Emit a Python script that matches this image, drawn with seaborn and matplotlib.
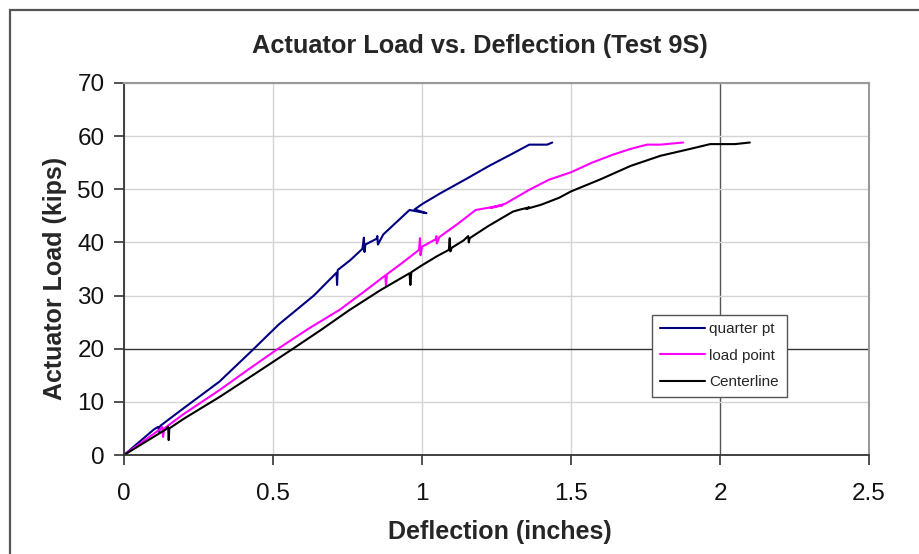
import pandas as pd
import seaborn as sns
import matplotlib.pyplot as plt
from matplotlib.patches import Rectangle

# readings (deflection in inches, load in kips)
quarter_x = [0, 0.05, 0.10, 0.115, 0.118, 0.122, 0.20, 0.32, 0.423, 0.52, 0.637, 0.69,
             0.713, 0.715, 0.717, 0.76, 0.80, 0.805, 0.807, 0.81, 0.848, 0.85, 0.852,
             0.87, 0.958, 1.015, 0.975, 1.00, 1.06, 1.15, 1.225, 1.30, 1.36, 1.42, 1.437]
quarter_y = [0, 2.4, 4.8, 5.3, 4.3, 5.5, 8.8, 13.8, 19.3, 24.6, 30.0, 33.0,
             34.3, 32.0, 34.8, 36.7, 38.8, 40.9, 38.2, 39.6, 40.7, 41.2, 39.6,
             41.5, 46.1, 45.5, 46.2, 47.2, 49.2, 52.0, 54.4, 56.6, 58.4, 58.4, 58.8]

load_x = [0, 0.06, 0.12, 0.128, 0.131, 0.135, 0.20, 0.32, 0.42, 0.517, 0.62, 0.723,
          0.80, 0.877, 0.879, 0.882, 0.93, 0.99, 0.993, 0.995, 1.00, 1.046, 1.048,
          1.05, 1.058, 1.12, 1.18, 1.21, 1.27, 1.23, 1.28, 1.36, 1.426, 1.50, 1.57,
          1.64, 1.70, 1.755, 1.80, 1.876]
load_y = [0, 2.4, 4.8, 5.3, 3.4, 5.0, 7.7, 12.2, 16.2, 20.0, 23.8, 27.3,
          30.5, 33.8, 31.8, 34.0, 36.0, 38.6, 40.8, 37.6, 39.2, 40.6, 41.2,
          39.8, 41.0, 43.5, 46.1, 46.4, 47.0, 46.5, 47.3, 49.9, 51.8, 53.2, 55.0,
          56.5, 57.6, 58.4, 58.4, 58.8]

center_x = [0, 0.07, 0.14, 0.148, 0.15, 0.152, 0.20, 0.32, 0.44, 0.567, 0.66, 0.757,
            0.86, 0.958, 0.961, 0.964, 1.00, 1.05, 1.09, 1.093, 1.095, 1.10, 1.14,
            1.155, 1.157, 1.16, 1.22, 1.305, 1.33, 1.36, 1.35, 1.40, 1.46, 1.50, 1.60,
            1.70, 1.80, 1.90, 1.967, 2.05, 2.10]
center_y = [0, 2.4, 4.8, 5.3, 2.8, 5.0, 6.8, 10.9, 15.3, 20.0, 23.5, 27.3,
            31.0, 34.2, 32.0, 34.4, 35.7, 37.4, 38.6, 40.8, 38.3, 39.0, 40.4,
            41.2, 40.0, 40.8, 43.0, 45.8, 46.2, 46.6, 46.3, 47.1, 48.4, 49.6, 51.9,
            54.4, 56.3, 57.6, 58.5, 58.5, 58.8]

series_names = ["quarter pt", "load point", "Centerline"]
series_colors = ["#000080", "#ff00ff", "#000000"]

df = pd.concat([
    pd.DataFrame({"x": quarter_x, "y": quarter_y, "series": series_names[0]}),
    pd.DataFrame({"x": load_x, "y": load_y, "series": series_names[1]}),
    pd.DataFrame({"x": center_x, "y": center_y, "series": series_names[2]}),
], ignore_index=True)

sns.set_style("white")
plt.rcParams["font.family"] = ["Liberation Sans", "DejaVu Sans"]

fig = plt.figure(figsize=(9.2, 5.54), dpi=100)
ax = fig.add_axes([0.1348, 0.1787, 0.8098, 0.6715])

sns.lineplot(data=df, x="x", y="y", hue="series", sort=False, estimator=None,
             palette=dict(zip(series_names, series_colors)), linewidth=1.5, ax=ax)

ax.set_xlim(0, 2.5)
ax.set_ylim(0, 70)
ax.set_xticks([0, 0.5, 1, 1.5, 2, 2.5])
ax.set_xticklabels(["0", "0.5", "1", "1.5", "2", "2.5"])
ax.set_yticks(range(0, 71, 10))

ax.grid(True, color="#d4d4d4", linewidth=1.0)
ax.set_axisbelow(True)
# the reference has two darker grid lines
for gl, v in zip(ax.get_ygridlines(), ax.get_yticks()):
    if v == 20:
        gl.set_color("#333333")
for gl, v in zip(ax.get_xgridlines(), ax.get_xticks()):
    if v == 2:
        gl.set_color("#555555")

for side in ["top", "right"]:
    ax.spines[side].set_color("#999999")
    ax.spines[side].set_linewidth(1.5)
for side in ["left", "bottom"]:
    ax.spines[side].set_color("#333333")
    ax.spines[side].set_linewidth(1.3)

ax.tick_params(axis="both", which="major", direction="out", length=7, width=1.2,
               color="#333333", labelsize=17.5, labelcolor="#111111",
               left=True, bottom=True)
ax.tick_params(axis="x", pad=13)
ax.tick_params(axis="y", pad=7)

ax.set_xlabel("")
ax.set_ylabel("")
fig.text(0.5435, 0.040, "Deflection (inches)", ha="center", va="center",
         fontsize=18, fontweight="bold")
fig.text(0.0598, 0.498, "Actuator Load (kips)", ha="center", va="center",
         rotation=90, fontsize=18, fontweight="bold")
fig.text(0.522, 0.917, "Actuator Load vs. Deflection (Test 9S)", ha="center",
         va="center", fontsize=18.3, fontweight="bold")

handles, labels = ax.get_legend_handles_labels()
leg = ax.legend(handles, labels, loc="lower left", bbox_to_anchor=(0.7087, 0.156),
                borderaxespad=0, fontsize=11, frameon=True, fancybox=False,
                framealpha=1, edgecolor="#555555", handlelength=3.0,
                handletextpad=0.25, borderpad=0.5, labelspacing=0.82)
leg.get_frame().set_linewidth(1.0)

# outer chart frame
fig.patches.append(Rectangle((0.011, -0.2), 1.5, 1.182, transform=fig.transFigure,
                             fill=False, edgecolor="#555555", linewidth=1.6))

fig.savefig("out.png", dpi=100)
